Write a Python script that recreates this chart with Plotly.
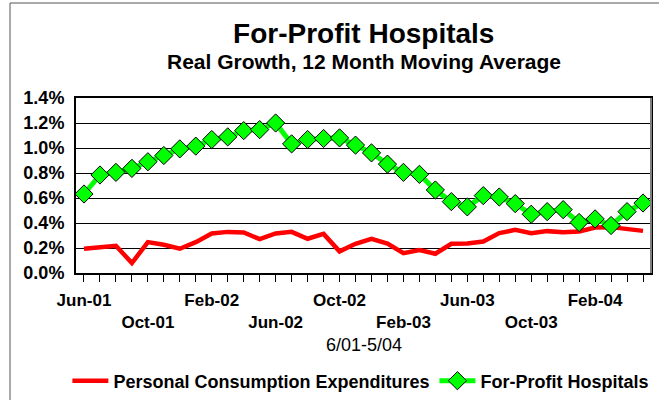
import plotly.graph_objects as go

months = ["Jun-01", "Jul-01", "Aug-01", "Sep-01", "Oct-01", "Nov-01", "Dec-01",
          "Jan-02", "Feb-02", "Mar-02", "Apr-02", "May-02", "Jun-02", "Jul-02",
          "Aug-02", "Sep-02", "Oct-02", "Nov-02", "Dec-02", "Jan-03", "Feb-03",
          "Mar-03", "Apr-03", "May-03", "Jun-03", "Jul-03", "Aug-03", "Sep-03",
          "Oct-03", "Nov-03", "Dec-03", "Jan-04", "Feb-04", "Mar-04", "Apr-04",
          "May-04"]

pce = [0.194, 0.202, 0.218, 0.080, 0.247, 0.226, 0.194, 0.247, 0.316, 0.329,
       0.324, 0.271, 0.316, 0.329, 0.274, 0.313, 0.173, 0.234, 0.274, 0.236,
       0.159, 0.183, 0.154, 0.234, 0.236, 0.252, 0.319, 0.345, 0.319, 0.335,
       0.327, 0.332, 0.364, 0.367, 0.353, 0.337]

hosp = [0.632, 0.784, 0.805, 0.837, 0.890, 0.940, 0.993, 1.015, 1.068, 1.089,
        1.139, 1.147, 1.200, 1.033, 1.068, 1.076, 1.081, 1.023, 0.961, 0.871,
        0.805, 0.789, 0.664, 0.571, 0.529, 0.619, 0.608, 0.555, 0.470, 0.491,
        0.507, 0.404, 0.433, 0.380, 0.491, 0.560]

row1_labels = ["Jun-01", "Feb-02", "Oct-02", "Jun-03", "Feb-04"]
row2_labels = ["Oct-01", "Jun-02", "Feb-03", "Oct-03"]

title = "For-Profit Hospitals"
subtitle = "Real Growth, 12 Month Moving Average"
x_title = "6/01-5/04"

FONT = "Liberation Sans, Arial, sans-serif"
idx = list(range(len(months)))

fig = go.Figure()
fig.add_trace(go.Scatter(
    x=idx, y=pce, mode="lines", name="Personal Consumption Expenditures",
    line=dict(color="#FF0000", width=4.5)))
fig.add_trace(go.Scatter(
    x=idx, y=hosp, mode="lines+markers", name="For-Profit Hospitals",
    line=dict(color="#00FF00", width=5),
    marker=dict(symbol="diamond", size=14, color="#00FF00",
                line=dict(color="black", width=1))))
# invisible helper trace for the second tick-label row axis
fig.add_trace(go.Scatter(x=idx, y=[None] * len(idx), xaxis="x2",
                         showlegend=False, hoverinfo="skip", mode="lines"))

fig.update_layout(
    width=659, height=400,
    margin=dict(l=76, r=8, t=98, b=127, autoexpand=False),
    paper_bgcolor="white", plot_bgcolor="white",
    font=dict(family=FONT, color="black"),
    title=dict(text=title, x=0.552, xanchor="center",
               y=1 - 33 / 400, yanchor="middle", yref="container",
               font=dict(size=28, family=FONT, color="black", weight="bold")),
    showlegend=True,
    legend=dict(orientation="h", x=-0.015, xanchor="left", y=-0.617,
                yanchor="middle",
                font=dict(size=18, family=FONT, weight="bold"),
                itemwidth=36, tracegroupgap=0, bgcolor="rgba(0,0,0,0)"),
    xaxis=dict(range=[-0.5, len(months) - 0.5], tickmode="array",
               tickvals=idx, automargin=False,
               ticktext=[m if m in row1_labels else "" for m in months],
               ticks="outside", ticklen=7, tickwidth=1, tickcolor="black",
               ticklabelstandoff=4,
               tickfont=dict(size=17, family=FONT, weight="bold"),
               showline=True, linecolor="black", linewidth=2, mirror=True,
               showgrid=False, zeroline=False),
    xaxis2=dict(overlaying="x", anchor="y", side="bottom", automargin=False,
                range=[-0.5, len(months) - 0.5], tickmode="array",
                tickvals=[months.index(m) for m in row2_labels],
                ticktext=row2_labels,
                ticks="", ticklabelstandoff=37,
                tickfont=dict(size=17, family=FONT, weight="bold"),
                showline=False, showgrid=False, zeroline=False),
    yaxis=dict(range=[0, 1.4], dtick=0.2, tickformat=".1f", ticksuffix="%",
               automargin=False, ticklabelstandoff=6,
               tickfont=dict(size=18, family=FONT, weight="bold"),
               showgrid=True, gridcolor="black", gridwidth=1,
               showline=True, linecolor="black", linewidth=2, mirror=True,
               ticks="", zeroline=False),
    annotations=[
        dict(text=subtitle, xref="paper", yref="paper",
             x=0.501, y=(273 - 62) / 175, xanchor="center", yanchor="middle",
             showarrow=False, font=dict(size=21, family=FONT, weight="bold")),
        dict(text=x_title, xref="paper", yref="paper",
             x=0.501, y=(273 - 345) / 175, xanchor="center", yanchor="middle",
             showarrow=False, font=dict(size=18, family=FONT)),
    ],
    shapes=[
        dict(type="line", xref="paper", yref="paper",
             x0=(10 - 76) / 575, x1=(10 - 76) / 575,
             y0=(273 - 400) / 175, y1=(273 - 3) / 175,
             line=dict(color="#555555", width=1), layer="below"),
        dict(type="line", xref="paper", yref="paper",
             x0=(10 - 76) / 575, x1=(659 - 76) / 575,
             y0=(273 - 3) / 175, y1=(273 - 3) / 175,
             line=dict(color="#555555", width=1), layer="below"),
        dict(type="line", xref="paper", yref="paper", x0=1, x1=1, y0=0, y1=1,
             line=dict(color="#808080", width=2)),
    ],
)

fig.write_html("out.html", config={"displayModeBar": False},
               post_script="document.body.style.margin='0';"
                           "document.body.style.overflow='hidden';")
